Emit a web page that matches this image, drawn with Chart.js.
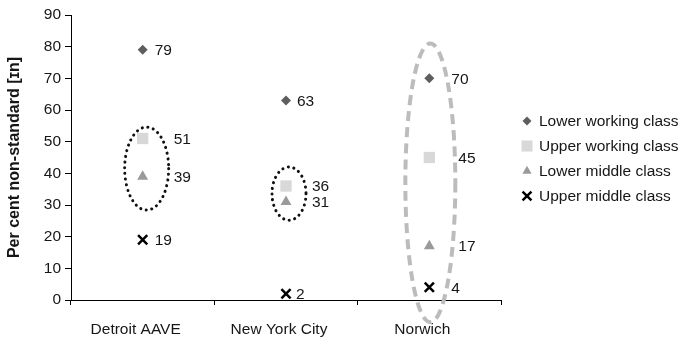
<!DOCTYPE html>
<html>
<head>
<meta charset="utf-8">
<script src="https://cdn.jsdelivr.net/npm/chart.js@4.4.0/dist/chart.umd.min.js"></script>
<style>
  body { margin: 0; background: #fff; }
</style>
</head>
<body>
<canvas id="chart" width="694" height="338"></canvas>
<script>
const cities = ['Detroit AAVE', 'New York City', 'Norwich'];
const classNames = ['Lower working class', 'Upper working class', 'Lower middle class', 'Upper middle class'];
const lowerWorking = [79, 63, 70];
const upperWorking = [51, 36, 45];
const lowerMiddle = [39, 31, 17];
const upperMiddle = [19, 2, 4];

// how far right of each marker its value label starts (px)
const labelShift = [
    [12, 11, 22],
    [31, 26, 29],
    [31, 26, 29],
    [12, 10, 22]
];

// rings drawn round groups of points, in axis units
const rings = [
    { city: 0, from: 28.4, to: 54.6, dx: 4, rx: 22, style: 'dots' },
    { city: 1, from: 25.2, to: 42, dx: 3, rx: 17, style: 'dots' },
    { city: 2, from: -7, to: 81, dx: 1, rx: 25, style: 'dash' }
];

const textFont = { family: 'Liberation Sans', size: 15.5 };
const textColor = '#161616';

const valueLabels = {
    id: 'valueLabels',
    afterDatasetsDraw(chart) {
        const ctx = chart.ctx;
        ctx.save();
        ctx.font = textFont.size + 'px "' + textFont.family + '"';
        ctx.fillStyle = textColor;
        ctx.textAlign = 'left';
        ctx.textBaseline = 'middle';
        chart.data.datasets.forEach((ds, i) => {
            chart.getDatasetMeta(i).data.forEach((pt, j) => {
                ctx.fillText(String(ds.data[j]), pt.x + labelShift[i][j], pt.y + 1);
            });
        });
        ctx.restore();
    }
};

const groupRings = {
    id: 'groupRings',
    afterDatasetsDraw(chart) {
        const ctx = chart.ctx;
        const xs = chart.scales.x;
        const ys = chart.scales.y;
        ctx.save();
        rings.forEach(r => {
            const top = ys.getPixelForValue(r.to);
            const bottom = ys.getPixelForValue(r.from);
            const cx = xs.getPixelForValue(r.city) + r.dx;
            ctx.beginPath();
            ctx.ellipse(cx, (top + bottom) / 2, r.rx, (bottom - top) / 2, 0, 0, Math.PI * 2);
            if (r.style === 'dots') {
                ctx.strokeStyle = '#111';
                ctx.lineWidth = 3;
                ctx.lineCap = 'round';
                ctx.setLineDash([0.1, 5.6]);
            } else {
                ctx.strokeStyle = '#bcbcbc';
                ctx.lineWidth = 4;
                ctx.lineCap = 'butt';
                ctx.setLineDash([10, 6]);
            }
            ctx.stroke();
        });
        ctx.restore();
    }
};

const sideLegend = {
    id: 'sideLegend',
    afterDraw(chart) {
        const ctx = chart.ctx;
        const area = chart.chartArea;
        const mid = (area.top + area.bottom) / 2 + 1;
        ctx.save();
        ctx.font = textFont.size + 'px "' + textFont.family + '"';
        ctx.textAlign = 'left';
        ctx.textBaseline = 'middle';
        chart.data.datasets.forEach((ds, i) => {
            const y = mid + (i - 1.5) * 25;
            const x = area.right + 26;
            ctx.fillStyle = ds.backgroundColor;
            ctx.strokeStyle = ds.borderColor;
            ctx.lineWidth = ds.borderWidth;
            Chart.helpers.drawPoint(ctx, {
                pointStyle: ds.pointStyle,
                radius: ds.legendRadius,
                rotation: 0,
                borderWidth: ds.borderWidth
            }, x, y);
            ctx.fillStyle = textColor;
            ctx.fillText(ds.label, x + 12, y + 1);
        });
        ctx.restore();
    }
};

function pointSet(label, data, style, fill, radius, legendRadius, border) {
    return {
        label: label,
        data: data,
        showLine: false,
        pointStyle: style,
        pointRadius: radius,
        pointHoverRadius: radius,
        legendRadius: legendRadius,
        backgroundColor: fill,
        borderColor: border ? border : fill,
        borderWidth: border ? 2.5 : 0,
        pointBorderWidth: border ? 2.5 : 0
    };
}

new Chart(document.getElementById('chart').getContext('2d'), {
    type: 'line',
    data: {
        labels: cities,
        datasets: [
            pointSet(classNames[0], lowerWorking, 'rectRot', '#5e5e5e', 5, 4.5),
            pointSet(classNames[1], upperWorking, 'rect', '#d8d8d8', 8, 7.8),
            pointSet(classNames[2], lowerMiddle, 'triangle', '#9a9a9a', 6.3, 5.3),
            pointSet(classNames[3], upperMiddle, 'crossRot', '#000', 6.5, 6.3, '#000')
        ]
    },
    options: {
        responsive: false,
        animation: false,
        layout: {
            padding: { top: 15, right: 193, left: 0, bottom: 0 }
        },
        plugins: {
            legend: { display: false },
            tooltip: { enabled: false }
        },
        scales: {
            x: {
                offset: true,
                afterFit(scale) { scale.height = 38; },
                grid: {
                    offset: true,
                    drawOnChartArea: false,
                    drawTicks: true,
                    tickLength: 5,
                    color: '#000'
                },
                border: { color: '#000', width: 1 },
                ticks: {
                    padding: 15,
                    labelOffset: -7,
                    color: textColor,
                    font: textFont,
                    maxRotation: 0
                }
            },
            y: {
                min: 0,
                max: 90,
                afterFit(scale) { scale.width = 71; },
                grid: {
                    drawOnChartArea: false,
                    drawTicks: true,
                    tickLength: 6,
                    color: '#000'
                },
                border: { color: '#000', width: 1 },
                ticks: {
                    stepSize: 10,
                    padding: 4,
                    color: textColor,
                    font: textFont
                },
                title: {
                    display: true,
                    text: 'Per cent non-standard [ɪn]',
                    color: textColor,
                    font: { family: 'Liberation Sans', size: 16, weight: 'bold' },
                    padding: { top: 5, bottom: 0 }
                }
            }
        }
    },
    plugins: [groupRings, valueLabels, sideLegend]
});
</script>
</body>
</html>
